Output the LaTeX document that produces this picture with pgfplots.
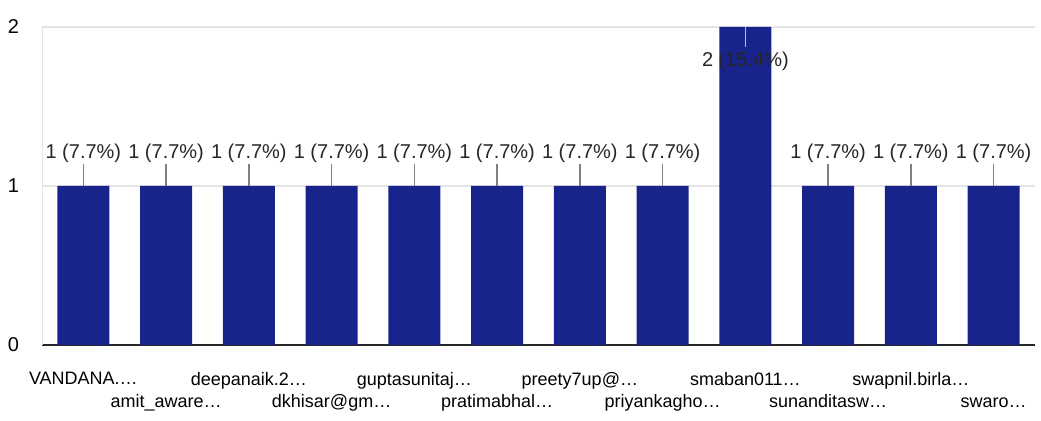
\documentclass[border=0pt]{standalone}
\usepackage{pgfplots}
\pgfplotsset{compat=1.18}
\usepackage{fontspec}
\setmainfont{Liberation Sans}
\definecolor{barblue}{RGB}{24,36,140}
\definecolor{gridgray}{RGB}{228,228,228}
\newcommand{\el}{\ldots}
\begin{document}
\begin{tikzpicture}
\useasboundingbox (0,0) rectangle (520.5pt,210.5pt);
\begin{axis}[
  at={(21pt,38pt)}, anchor=south west,
  scale only axis,
  width=496.5pt, height=159pt,
  xmin=-0.5, xmax=11.5,
  ymin=0, ymax=2,
  ytick={0,1,2},
  xtick={0,1,2,3,4,5,6,7,8,9,10,11},
  xticklabels={VANDANA.\el, {\phantom{A}\\amit\_aware\el}, deepanaik.2\el, {\phantom{A}\\dkhisar@gm\el},
    guptasunitaj\el, {\phantom{A}\\pratimabhal\el}, preety7up@\el, {\phantom{A}\\priyankagho\el},
    smaban011\el, {\phantom{A}\\sunanditasw\el}, swapnil.birla\el, {\phantom{A}\\swaro\el}},
  xticklabel style={font=\fontsize{9}{11.5}\selectfont, align=center, anchor=north, yshift=-10pt},
  yticklabel style={font=\fontsize{10}{12}\selectfont, xshift=-8pt},
  /pgf/number format/assume math mode=true,
  major tick length=0pt,
  ymajorgrids, grid style={gridgray, line width=0.6pt},
  axis lines=left,
  axis line style={-},
  x axis line style={draw=black!85, line width=1pt},
  y axis line style={draw=gridgray},
  clip=false,
]
\addplot[ybar, bar width=0.63, fill=barblue, draw=none] coordinates {
  (0,1) (1,1) (2,1) (3,1) (4,1) (5,1) (6,1) (7,1) (8,2) (9,1) (10,1) (11,1)};
% labels for value-1 bars
\addplot[only marks, mark=none, mark size=0pt, mark options={draw=none, fill=none},
  error bars/.cd, y dir=plus, y fixed=0.138, error mark=none,
  error bar style={gray, line width=0.8pt}]
  coordinates {(0,1) (1,1) (2,1) (3,1) (4,1) (5,1) (6,1) (7,1) (9,1) (10,1) (11,1)};
\addplot[only marks, mark=none, mark size=0pt, mark options={draw=none, fill=none},
  nodes near coords={1 (7.7\%)},
  every node near coord/.style={anchor=center, yshift=16.5pt, font=\fontsize{10}{12}\selectfont, text=black!85, inner sep=0pt}]
  coordinates {(0,1) (1,1) (2,1) (3,1) (4,1) (5,1) (6,1) (7,1) (9,1) (10,1) (11,1)};
% label for value-2 bar
\addplot[only marks, mark=none, mark size=0pt, mark options={draw=none, fill=none},
  error bars/.cd, y dir=minus, y fixed=0.125, error mark=none,
  error bar style={black!25, line width=0.6pt}]
  coordinates {(8,2)};
\addplot[only marks, mark=none, mark size=0pt, mark options={draw=none, fill=none},
  nodes near coords={2 (15.4\%)},
  every node near coord/.style={anchor=center, yshift=-17pt, font=\fontsize{10}{12}\selectfont, text=black!85, inner sep=0pt}]
  coordinates {(8,2)};
\end{axis}
\end{tikzpicture}
\end{document}
